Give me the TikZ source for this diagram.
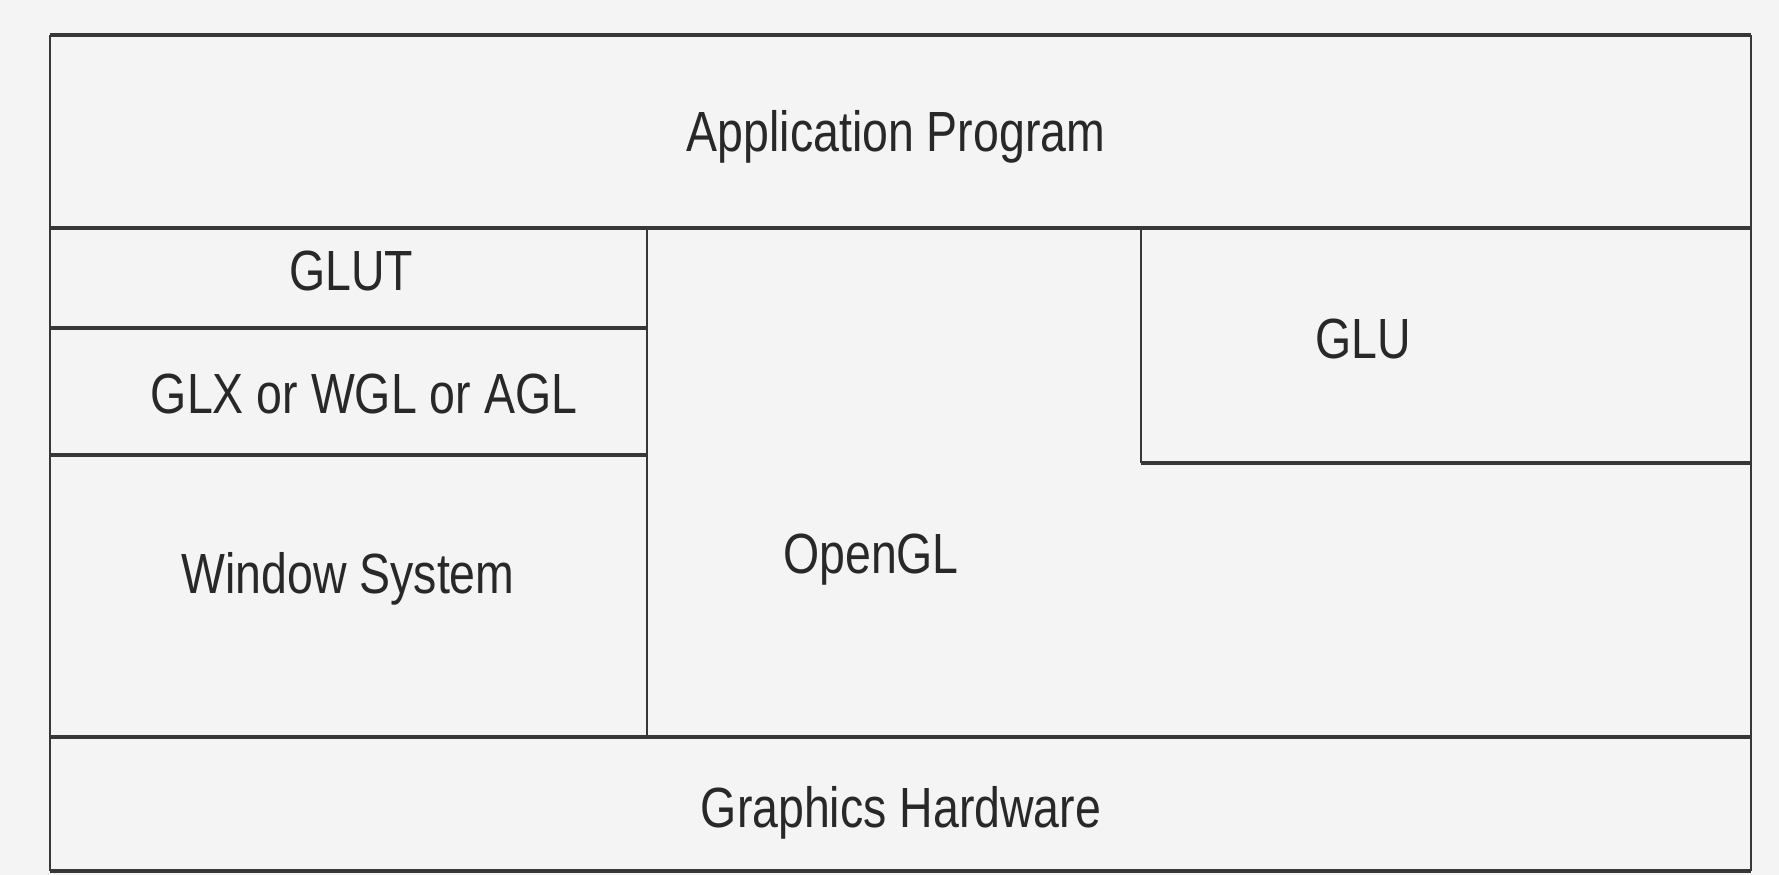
\documentclass[tikz,border=0pt]{standalone}
\usepackage{fontspec}
\setmainfont{Liberation Sans}[FakeStretch=0.82]
\usepackage{tikz}

\definecolor{inkline}{RGB}{55,55,55}
\definecolor{inktext}{RGB}{40,40,40}
\definecolor{paper}{RGB}{244,244,244}

\tikzset{
  layerline/.style={draw=inkline, line width=2.6pt},
  sideline/.style={draw=inkline, line width=1.8pt},
  layerlabel/.style={anchor=base, text=inktext, inner sep=0pt, font=\fontsize{42.5}{50}\selectfont}
}

\begin{document}
\begin{tikzpicture}[x=0.75pt,y=0.75pt,yscale=-1,xscale=1]
%set diagram left start at 0, and has height of 875
\fill[paper] (0,0) rectangle (1779,875);
\useasboundingbox (0,0) rectangle (1779,875);

%Straight Lines [id:outer_left]
\draw [sideline]   (50,35) -- (50,871) ;
%Straight Lines [id:outer_right]
\draw [sideline]   (1751,35) -- (1751,871) ;
%Straight Lines [id:outer_top]
\draw [layerline]   (50,35) -- (1751,35) ;
%Straight Lines [id:outer_bottom]
\draw [layerline]   (50,871) -- (1751,871) ;
%Straight Lines [id:app_bottom]
\draw [layerline]   (50,228) -- (1751,228) ;
%Straight Lines [id:glut_bottom]
\draw [layerline]   (50,328) -- (647,328) ;
%Straight Lines [id:glx_bottom]
\draw [layerline]   (50,455) -- (647,455) ;
%Straight Lines [id:opengl_left]
\draw [sideline]   (647,228) -- (647,737) ;
%Straight Lines [id:glu_left]
\draw [sideline]   (1141,228) -- (1141,463) ;
%Straight Lines [id:glu_bottom]
\draw [layerline]   (1141,463) -- (1751,463) ;
%Straight Lines [id:hw_top]
\draw [layerline]   (50,737) -- (1751,737) ;

% labels
\node [layerlabel] (app) at (896,151) {Application Program};
\node [layerlabel] (glut) at (351,290) {GLUT};
\node [layerlabel] (glx) at (364,413) {GLX or WGL or AGL};
\node [layerlabel] (winsys) at (348,593) {Window System};
\node [layerlabel] (opengl) at (871,573) {OpenGL};
\node [layerlabel] (glu) at (1363,358) {GLU};
\node [layerlabel] (hw) at (901,827) {Graphics Hardware};

\end{tikzpicture}
\end{document}
